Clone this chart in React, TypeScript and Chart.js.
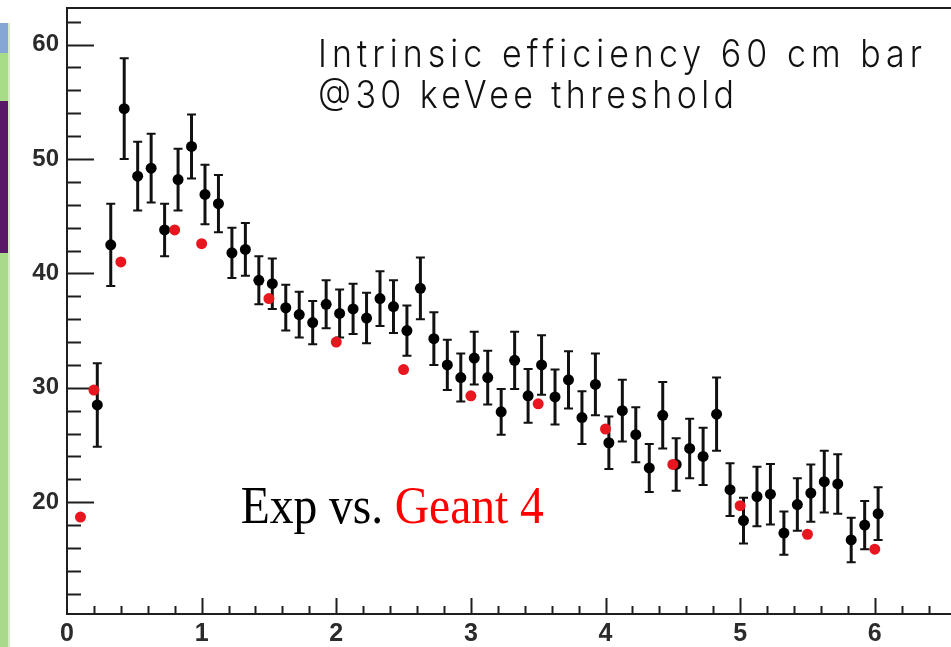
import React, { useEffect, useRef } from "react";
import { Chart, registerables } from "chart.js";

Chart.register(...registerables);

// ---- data ----
const expX = [0.225, 0.325, 0.425, 0.525, 0.625, 0.725, 0.825, 0.925, 1.025, 1.125, 1.225, 1.325, 1.425, 1.525, 1.625, 1.725, 1.825, 1.925, 2.025, 2.125, 2.225, 2.325, 2.425, 2.525, 2.625, 2.725, 2.825, 2.925, 3.025, 3.125, 3.225, 3.325, 3.425, 3.525, 3.625, 3.725, 3.825, 3.925, 4.025, 4.125, 4.225, 4.325, 4.425, 4.525, 4.625, 4.725, 4.825, 4.925, 5.025, 5.125, 5.225, 5.325, 5.425, 5.525, 5.625, 5.725, 5.825, 5.925, 6.025];
const expY = [28.5, 42.5, 54.4, 48.5, 49.2, 43.8, 48.2, 51.1, 46.9, 46.1, 41.8, 42.1, 39.4, 39.1, 37.0, 36.4, 35.7, 37.3, 36.5, 36.9, 36.1, 37.8, 37.1, 35.0, 38.7, 34.3, 32.0, 30.9, 32.6, 30.9, 27.9, 32.4, 29.3, 32.0, 29.2, 30.7, 27.4, 30.3, 25.2, 28.0, 25.9, 23.0, 27.6, 23.3, 24.7, 24.0, 27.7, 21.1, 18.4, 20.5, 20.7, 17.3, 19.8, 20.8, 21.8, 21.6, 16.7, 18.0, 19.0];
const expErr = [3.65, 3.6, 4.4, 3.0, 3.0, 2.3, 2.7, 2.8, 2.6, 2.5, 2.2, 2.3, 2.1, 2.2, 2.0, 2.0, 1.9, 2.1, 2.1, 2.2, 2.2, 2.4, 2.3, 2.2, 2.7, 2.3, 2.2, 2.1, 2.3, 2.35, 2.0, 2.5, 2.35, 2.6, 2.4, 2.5, 2.3, 2.7, 2.3, 2.7, 2.4, 2.1, 2.9, 2.3, 2.6, 2.5, 3.2, 2.3, 2.0, 2.6, 2.65, 1.9, 2.3, 2.5, 2.7, 2.6, 1.95, 2.1, 2.3];

const g4X = [0.1, 0.2, 0.4, 0.8, 1.0, 1.5, 2.0, 2.5, 3.0, 3.5, 4.0, 4.5, 5.0, 5.5, 6.0];
const g4Y = [18.7, 29.8, 41.0, 43.8, 42.6, 37.8, 34.0, 31.6, 29.3, 28.6, 26.4, 23.3, 19.7, 17.2, 15.9];

const xTickLabels = ["0", "1", "2", "3", "4", "5", "6"];
const yTickLabels = ["20", "30", "40", "50", "60"];

const X_MIN = 0;
const X_MAX = 6.57;
const Y_MIN = 10.23;
const Y_MAX = 63.2;

const titleLines = ["Intrinsic efficiency 60 cm bar", "@30 keVee threshold"];

const AXIS_COLOR = "#1e1e1e";
const CANVAS_W = 957;

const rootStyle = {
  id: "rootStyle",
  beforeDatasetsDraw(chart: any) {
    const ctx = chart.ctx;
    const xs = chart.scales.x;
    const ys = chart.scales.y;
    const area = chart.chartArea;
    ctx.save();
    ctx.strokeStyle = AXIS_COLOR;
    ctx.lineCap = "butt";

    // frame top
    ctx.lineWidth = 2;
    ctx.beginPath();
    ctx.moveTo(area.left, area.top);
    ctx.lineTo(area.right, area.top);
    ctx.stroke();

    // y ticks (inward)
    const yMajor = yTickLabels.map(Number);
    for (let v = 12; v <= 62; v += 2) {
      const isMajor = yMajor.includes(v);
      const py = Math.round(ys.getPixelForValue(v)) + 0.5;
      ctx.lineWidth = 2;
      ctx.beginPath();
      ctx.moveTo(area.left, py);
      ctx.lineTo(area.left + (isMajor ? 27 : 14), py);
      ctx.stroke();
    }
    // x ticks (inward)
    const xMajor = xTickLabels.map(Number);
    for (let k = 1; k <= 32; k++) {
      const v = k * 0.2;
      const isMajor = xMajor.some((m) => Math.abs(m - v) < 1e-6);
      const px = Math.round(xs.getPixelForValue(v)) + 0.5;
      ctx.lineWidth = 2;
      ctx.beginPath();
      ctx.moveTo(px, area.bottom);
      ctx.lineTo(px, area.bottom - (isMajor ? 16 : 8));
      ctx.stroke();
    }

    // error bars
    ctx.strokeStyle = "#111";
    for (let i = 0; i < expX.length; i++) {
      const px = xs.getPixelForValue(expX[i]);
      const top = ys.getPixelForValue(expY[i] + expErr[i]);
      const bot = ys.getPixelForValue(expY[i] - expErr[i]);
      ctx.lineWidth = 3;
      ctx.beginPath();
      ctx.moveTo(px, top);
      ctx.lineTo(px, bot);
      ctx.stroke();
      ctx.lineWidth = 2;
      ctx.beginPath();
      ctx.moveTo(px - 4.5, top);
      ctx.lineTo(px + 4.5, top);
      ctx.moveTo(px - 4.5, bot);
      ctx.lineTo(px + 4.5, bot);
      ctx.stroke();
    }
    ctx.restore();
  },
};

function ChartCanvas() {
  const ref = useRef<HTMLCanvasElement | null>(null);
  useEffect(() => {
    if (!ref.current) return;
    const chart = new Chart(ref.current, {
      type: "scatter",
      data: {
        datasets: [
          {
            label: "Geant 4",
            data: g4X.map((x, i) => ({ x, y: g4Y[i] })),
            backgroundColor: "#e8161e",
            borderWidth: 0,
            pointRadius: 5.5,
          },
          {
            label: "Exp",
            data: expX.map((x, i) => ({ x, y: expY[i] })),
            backgroundColor: "#000",
            borderWidth: 0,
            pointRadius: 5.5,
          },
        ],
      },
      options: {
        responsive: false,
        animation: false,
        devicePixelRatio: 1,
        layout: { padding: { top: 8, left: 0, right: 0, bottom: 0 } },
        plugins: {
          legend: { display: false },
          tooltip: { enabled: false },
        },
        scales: {
          x: {
            type: "linear",
            min: X_MIN,
            max: X_MAX,
            afterBuildTicks: (s: any) => {
              s.ticks = xTickLabels.map((l) => ({ value: Number(l) }));
            },
            afterFit: (s: any) => {
              s.height = 33;
              s.paddingLeft = 0;
              s.paddingRight = 0;
            },
            ticks: {
              autoSkip: false,
              maxRotation: 0,
              padding: 5,
              color: "#2b2b2b",
              font: { family: "'Liberation Sans', Arial, sans-serif", size: 25, weight: "bold" },
              callback: (v: any) => {
                const i = xTickLabels.findIndex((l) => Number(l) === Number(v));
                return i >= 0 ? xTickLabels[i] : "";
              },
            },
            grid: { display: true, drawOnChartArea: false, drawTicks: false },
            border: { display: true, color: AXIS_COLOR, width: 2 },
          },
          y: {
            type: "linear",
            min: Y_MIN,
            max: Y_MAX,
            afterBuildTicks: (s: any) => {
              s.ticks = yTickLabels.map((l) => ({ value: Number(l) }));
            },
            afterFit: (s: any) => {
              s.width = 67;
              s.paddingTop = 0;
              s.paddingBottom = 0;
            },
            ticks: {
              autoSkip: false,
              padding: 8,
              color: "#2b2b2b",
              font: { family: "'Liberation Sans', Arial, sans-serif", size: 24, weight: "bold" },
              callback: (v: any) => {
                const i = yTickLabels.findIndex((l) => Number(l) === Number(v));
                return i >= 0 ? yTickLabels[i] : "";
              },
            },
            grid: { display: true, drawOnChartArea: false, drawTicks: false },
            border: { display: true, color: AXIS_COLOR, width: 2 },
          },
        },
      },
      plugins: [rootStyle],
    } as any);
    return () => chart.destroy();
  }, []);
  return (
    <canvas
      ref={ref}
      width={CANVAS_W}
      height={647}
      style={{ display: "block", width: CANVAS_W, height: 647 }}
    />
  );
}

export default function App() {
  return (
    <div
      style={{
        position: "fixed",
        left: 0,
        top: 0,
        width: 951,
        height: 647,
        background: "#ffffff",
        overflow: "hidden",
      }}
    >
      <ChartCanvas />
      {/* left colored strip (screen edge) */}
      <div style={{ position: "absolute", left: 0, top: 23, width: 8, height: 30, background: "#86a6d6" }} />
      <div style={{ position: "absolute", left: 0, top: 53, width: 8, height: 48, background: "#a8dc86" }} />
      <div style={{ position: "absolute", left: 0, top: 101, width: 8, height: 152, background: "#5a1868" }} />
      <div style={{ position: "absolute", left: 0, top: 253, width: 8, height: 394, background: "#a8da8a" }} />
      <div style={{ position: "absolute", left: 8, top: 23, width: 2, height: 624, background: "#d6ecc8" }} />
      <svg
        width={951}
        height={647}
        style={{ position: "absolute", left: 0, top: 0, pointerEvents: "none" }}
      >
        <text
          transform="translate(318,66.7) scale(1,1.1)"
          x={0}
          y={0}
          textLength={604}
          lengthAdjust="spacing"
          style={{ fontFamily: "Inter, 'Open Sans', sans-serif", fontWeight: 300, fontSize: 34, fill: "#111" }}
        >
          {titleLines[0]}
        </text>
        <text
          transform="translate(318,108.3) scale(1,1.1)"
          x={0}
          y={0}
          textLength={416}
          lengthAdjust="spacing"
          style={{ fontFamily: "Inter, 'Open Sans', sans-serif", fontWeight: 300, fontSize: 34, fill: "#111" }}
        >
          {titleLines[1]}
        </text>
        <text
          transform="translate(240.7,523.3) scale(1,1.1)"
          x={0}
          y={0}
          textLength={303}
          lengthAdjust="spacing"
          style={{ fontFamily: "'Liberation Serif', 'Times New Roman', serif", fontSize: 47.6, fill: "#000" }}
        >
          Exp vs. <tspan fill="#ff0000">Geant 4</tspan>
        </text>
      </svg>
    </div>
  );
}
